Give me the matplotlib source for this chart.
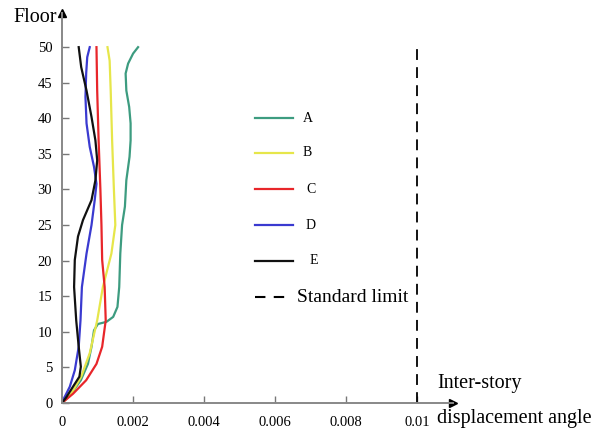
import numpy as np
import matplotlib.pyplot as plt

plt.rcParams['font.family'] = ['Liberation Serif', 'DejaVu Serif']

# inter-story drift angle vs floor
floor_a = [0, 1.3, 3.2, 5.5, 7.9, 10.2, 11.1, 11.4, 12.1, 13.5, 16.3, 21, 25, 27.6, 31.3,
           34.6, 36.9, 39.3, 41.6, 43.9, 46.3, 47.7, 49.1, 50]
drift_a = [0, 0.00026, 0.00053, 0.00073, 0.00083, 0.0009, 0.00101, 0.00125, 0.00144, 0.00156,
           0.00161, 0.00164, 0.00169, 0.00177, 0.00181, 0.0019, 0.00193, 0.00193, 0.00189,
           0.00181, 0.00179, 0.00186, 0.002, 0.00214]

floor_b = [0, 1.3, 3.7, 7, 11.6, 16.3, 21, 25, 30, 36.9, 43.9, 48.1, 50]
drift_b = [0, 0.00026, 0.00054, 0.00078, 0.00099, 0.00115, 0.00139, 0.0015, 0.00146, 0.00141,
           0.00137, 0.00134, 0.00128]

floor_c = [0, 1.3, 3.2, 5.5, 7.9, 11.6, 16.3, 20.1, 25, 30, 36.9, 43.9, 50]
drift_c = [0, 0.00031, 0.00068, 0.00097, 0.00113, 0.00123, 0.0012, 0.00113, 0.00111, 0.00108,
           0.00103, 0.00099, 0.00097]

floor_d = [0, 0.8, 2.3, 4.6, 7.9, 11.6, 16.3, 21, 25, 28.5, 30.8, 33.2, 36, 39.3, 43, 46.3,
           48.6, 50]
drift_d = [0, 0.00007, 0.00022, 0.00036, 0.00047, 0.00052, 0.00056, 0.00069, 0.00083, 0.00092,
           0.00097, 0.0009, 0.00078, 0.00069, 0.00066, 0.00068, 0.00071, 0.00078]

floor_e = [0, 0.8, 2.3, 3.7, 5.1, 7.9, 11.6, 16.3, 20.1, 23.4, 25.7, 28.5, 31.3, 34.1, 36.9,
           40.2, 43.9, 47.2, 50]
drift_e = [0, 0.00012, 0.00031, 0.00049, 0.00053, 0.00047, 0.0004, 0.00034, 0.00036, 0.00045,
           0.00059, 0.00083, 0.00094, 0.00099, 0.00094, 0.00083, 0.00069, 0.00054, 0.00047]

limit = 0.01
x_ticks = [0, 0.002, 0.004, 0.006, 0.008, 0.01]
x_labels = ['0', '0.002', '0.004', '0.006', '0.008', '0.01']
y_ticks = list(range(0, 55, 5))

names = ['A', 'B', 'C', 'D', 'E']
colors = ['#3d9c80', '#e6e64a', '#e8262a', '#3a3ad0', '#111111']

fig = plt.figure(figsize=(5.93, 4.30), dpi=100)
ax = fig.add_axes([62 / 593, 27 / 430, (453 - 62) / 593, (403 - 13) / 430])

series = [(drift_a, floor_a), (drift_b, floor_b), (drift_c, floor_c),
          (drift_d, floor_d), (drift_e, floor_e)]
for (x, y), c in zip(series, colors):
    ax.plot(x, y, color=c, lw=1.6, solid_joinstyle='round')

ax.vlines(limit, 0, 50.5, colors='black', linestyles=(0, (6, 4)), lw=1.3)

ax.set_xlim(0, 0.011)
ax.set_ylim(0, 54.8)
ax.set_xticks(x_ticks)
ax.set_xticklabels(x_labels)
ax.set_yticks(y_ticks)
ax.tick_params(direction='in', length=5, width=1, color='#777777', labelsize=10.5, pad=7)
ax.tick_params(axis='x', pad=9)

for s in ['top', 'right']:
    ax.spines[s].set_visible(False)
for s in ['left', 'bottom']:
    ax.spines[s].set_color('#888888')
    ax.spines[s].set_linewidth(1.4)

# arrow heads on the axes
ax.plot(1, 0, '>', color='black', ms=6, transform=ax.transAxes, clip_on=False)
ax.plot(0, 1, '^', color='black', ms=6, transform=ax.transAxes, clip_on=False)

# labels
fig.text(13 / 593, 1 - 22 / 430, 'Floor', fontsize=14.5, ha='left', va='baseline')
fig.text(437 / 593, 1 - 388 / 430, 'Inter-story', fontsize=14.5, ha='left', va='baseline')
fig.text(437 / 593, 1 - 423 / 430, 'displacement angle', fontsize=14.5, ha='left', va='baseline')

# hand-placed legend
leg_y = [118, 153, 189, 225, 261]
leg_tx = [303, 303, 306, 306, 310]
for n, c, yy, tx in zip(names, colors, leg_y, leg_tx):
    fig.add_artist(plt.Line2D([255 / 593, 293 / 593], [1 - yy / 430] * 2, color=c, lw=1.6))
    fig.text(tx / 593, 1 - yy / 430, n, fontsize=10, ha='left', va='center')
fig.add_artist(plt.Line2D([255 / 593, 290 / 593], [1 - 297 / 430] * 2, color='black',
                          lw=1.5, ls=(0, (5, 4))))
fig.text(297 / 593, 1 - 297 / 430, 'Standard limit', fontsize=14, ha='left', va='center')

fig.savefig('out.png', dpi=100)
